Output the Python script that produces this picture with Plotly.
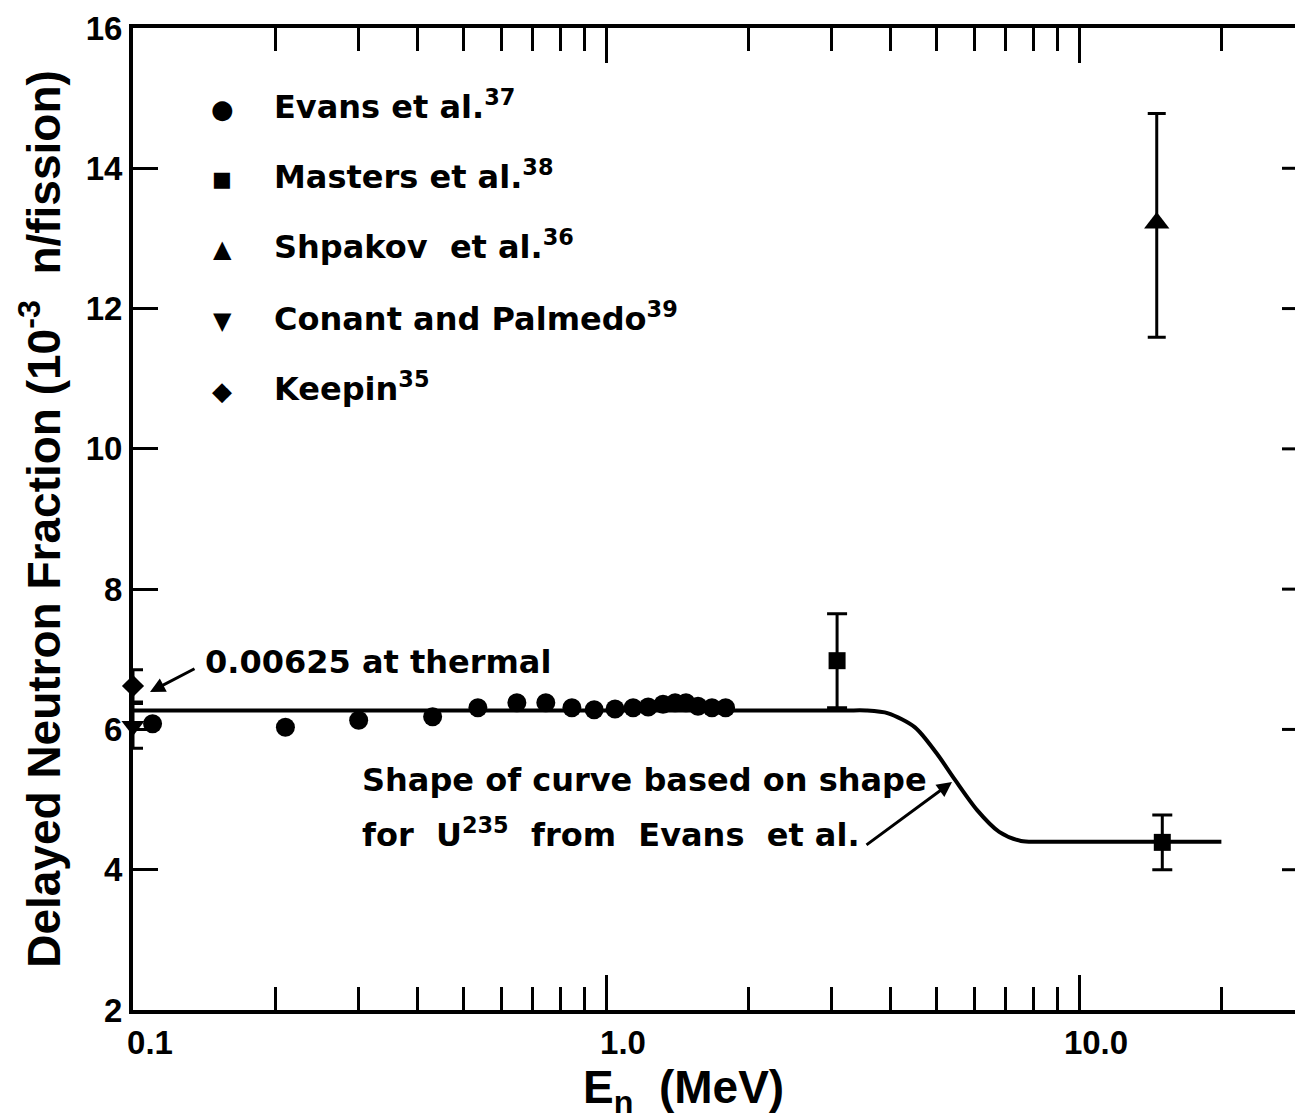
import plotly.graph_objects as go

# ---------------- data ----------------
evans_E = [0.11, 0.21, 0.30, 0.43, 0.536, 0.648, 0.746, 0.847, 0.944, 1.045, 1.141,
           1.228, 1.32, 1.40, 1.476, 1.565, 1.675, 1.79]
evans_v = [6.08, 6.03, 6.13, 6.18, 6.31, 6.38, 6.38, 6.31, 6.28, 6.29, 6.31,
           6.32, 6.36, 6.38, 6.38, 6.33, 6.31, 6.31]

masters_E = [3.08, 15.0]
masters_v = [6.98, 4.39]
masters_err = [0.67, 0.39]

shpakov_E = [14.6]
shpakov_v = [13.22]
shpakov_err_plus = [1.56]
shpakov_err_minus = [1.63]

conant_E = [0.1]
conant_v = [6.05]
conant_err = [0.32]

keepin_E = [0.1]
keepin_v = [6.62]
keepin_err = [0.23]

curve_E = [0.1, 1.0, 3.2, 3.55, 3.95, 4.5, 5.0, 5.47, 6.09, 6.78, 7.54, 8.4, 20.0]
curve_v = [6.27, 6.27, 6.27, 6.27, 6.23, 6.03, 5.66, 5.28, 4.85, 4.54, 4.41, 4.40, 4.40]

legend_symbols = ["●", "■", "▲", "▼", "◆"]
legend_labels = ["Evans et al.<sup>37</sup>", "Masters et al.<sup>38</sup>",
                 "Shpakov  et al.<sup>36</sup>", "Conant and Palmedo<sup>39</sup>",
                 "Keepin<sup>35</sup>"]

x_major = [0.1, 1.0, 10.0]
x_major_text = ["0.1", "1.0", "10.0"]
x_minor = [0.2, 0.3, 0.4, 0.5, 0.6, 0.7, 0.8, 0.9, 2, 3, 4, 5, 6, 7, 8, 9, 20]
y_ticks = [2, 4, 6, 8, 10, 12, 14, 16]
right_ticks = [4, 6, 8, 10, 12, 14]

TFONT = "Liberation Sans"
AFONT = "DejaVu Sans"
W, H = 1295, 1120
ML, MR, MT, MB = 133, 0, 28, 110
PW = W - ML - MR
PH = H - MT - MB
DEC = 473.0  # pixels per decade
x_hi = -1 + PW / DEC

fig = go.Figure()

fig.add_trace(go.Scatter(x=curve_E, y=curve_v, mode="lines",
                         line=dict(color="black", width=4, shape="spline", smoothing=0.8),
                         showlegend=False, hoverinfo="skip"))

fig.add_trace(go.Scatter(x=evans_E, y=evans_v, mode="markers", cliponaxis=False,
                         marker=dict(symbol="circle", size=19, color="black"),
                         name="Evans et al.", showlegend=False))

fig.add_trace(go.Scatter(x=masters_E, y=masters_v, mode="markers", cliponaxis=False,
                         marker=dict(symbol="square", size=17, color="black"),
                         error_y=dict(type="data", array=masters_err, color="black",
                                      thickness=3, width=10),
                         name="Masters et al.", showlegend=False))

fig.add_trace(go.Scatter(x=shpakov_E, y=shpakov_v, mode="markers", cliponaxis=False,
                         marker=dict(symbol="triangle-up", size=22, color="black"),
                         error_y=dict(type="data", symmetric=False, array=shpakov_err_plus,
                                      arrayminus=shpakov_err_minus, color="black",
                                      thickness=3, width=9),
                         name="Shpakov et al.", showlegend=False))

fig.add_trace(go.Scatter(x=conant_E, y=conant_v, mode="markers", cliponaxis=False,
                         marker=dict(symbol="triangle-down", size=20, color="black"),
                         error_y=dict(type="data", array=conant_err, color="black",
                                      thickness=3, width=10),
                         name="Conant and Palmedo", showlegend=False))

fig.add_trace(go.Scatter(x=keepin_E, y=keepin_v, mode="markers", cliponaxis=False,
                         marker=dict(symbol="diamond", size=17, color="black"),
                         error_y=dict(type="data", array=keepin_err, color="black",
                                      thickness=3, width=10),
                         name="Keepin", showlegend=False))

shapes = []
for v in right_ticks:
    shapes.append(dict(type="line", xref="paper", yref="y",
                       x0=1 - 13.0 / PW, x1=1.0, y0=v, y1=v,
                       line=dict(color="black", width=3)))


def px_x(px):
    return (px - ML) / PW


def px_y(py):
    return (MT + PH - py) / PH


def lx(px):
    return -1 + (px - ML) / DEC


def vy(py):
    return 2 + ((MT + PH) - py) * 14.0 / PH


afont = dict(family=AFONT, size=32, weight="bold")

annotations = [
    dict(x=lx(203), y=vy(662), xref="x", yref="y", text="0.00625 at thermal",
         showarrow=False, xanchor="left", yanchor="middle", font=afont),
    dict(x=lx(150), y=vy(692), xref="x", yref="y", text="", showarrow=True,
         ax=46, ay=-24, arrowhead=2, arrowsize=1, arrowwidth=3, arrowcolor="black"),
    dict(x=lx(360), y=vy(780), xref="x", yref="y", text="Shape of curve based on shape",
         showarrow=False, xanchor="left", yanchor="middle", font=afont),
    dict(x=lx(360), y=vy(833), xref="x", yref="y",
         text="for  U<sup>235</sup>  from  Evans  et al.",
         showarrow=False, xanchor="left", yanchor="middle", font=afont),
    dict(x=lx(952), y=vy(782), xref="x", yref="y", text="", showarrow=True,
         ax=-87, ay=64, arrowhead=2, arrowsize=1, arrowwidth=3, arrowcolor="black"),
    dict(x=px_x(683), y=px_y(1090), xref="paper", yref="paper",
         text="E<sub>n</sub>  (MeV)", showarrow=False, xanchor="center",
         yanchor="middle", font=dict(family=TFONT, size=46, weight="bold")),
]

legend_rows = [108, 178, 248, 320, 390]
sym_sizes = [26, 21, 24, 24, 26]
for sym, lab, row, ss in zip(legend_symbols, legend_labels, legend_rows, sym_sizes):
    annotations.append(dict(x=px_x(222), y=px_y(row + 1), xref="paper", yref="paper",
                            text=sym, showarrow=False, xanchor="center", yanchor="middle",
                            font=dict(family=AFONT, size=ss)))
    annotations.append(dict(x=px_x(272), y=px_y(row - 3), xref="paper", yref="paper",
                            text=lab, showarrow=False, xanchor="left", yanchor="middle",
                            font=afont))

fig.update_layout(
    width=W, height=H,
    margin=dict(l=ML, r=MR, t=MT, b=MB, pad=0),
    paper_bgcolor="white", plot_bgcolor="white",
    font=dict(family=TFONT, color="black", size=32, weight="bold"),
    shapes=shapes, annotations=annotations, showlegend=False,
    xaxis=dict(type="log", range=[-1, x_hi], showline=True, linewidth=4,
               linecolor="black", mirror="ticks", ticks="inside", ticklen=35,
               tickwidth=3, tickcolor="black", tickvals=x_major, ticktext=x_major_text,
               tickfont=dict(size=33), showgrid=False, zeroline=False,
               ticklabelshift=17,
               minor=dict(tickvals=x_minor, ticks="inside", ticklen=23, tickwidth=3,
                          tickcolor="black", showgrid=False)),
    yaxis=dict(range=[2, 16], showline=True, linewidth=4, linecolor="black",
               mirror=False, ticks="inside", ticklen=25, tickwidth=3,
               tickcolor="black", tickvals=y_ticks, tickfont=dict(size=33),
               showgrid=False, zeroline=False,
               title=dict(text="Delayed Neutron Fraction (10<sup>-3</sup>  n/fission)",
                          font=dict(size=46), standoff=12)),
)

fig.write_html("out.html")
